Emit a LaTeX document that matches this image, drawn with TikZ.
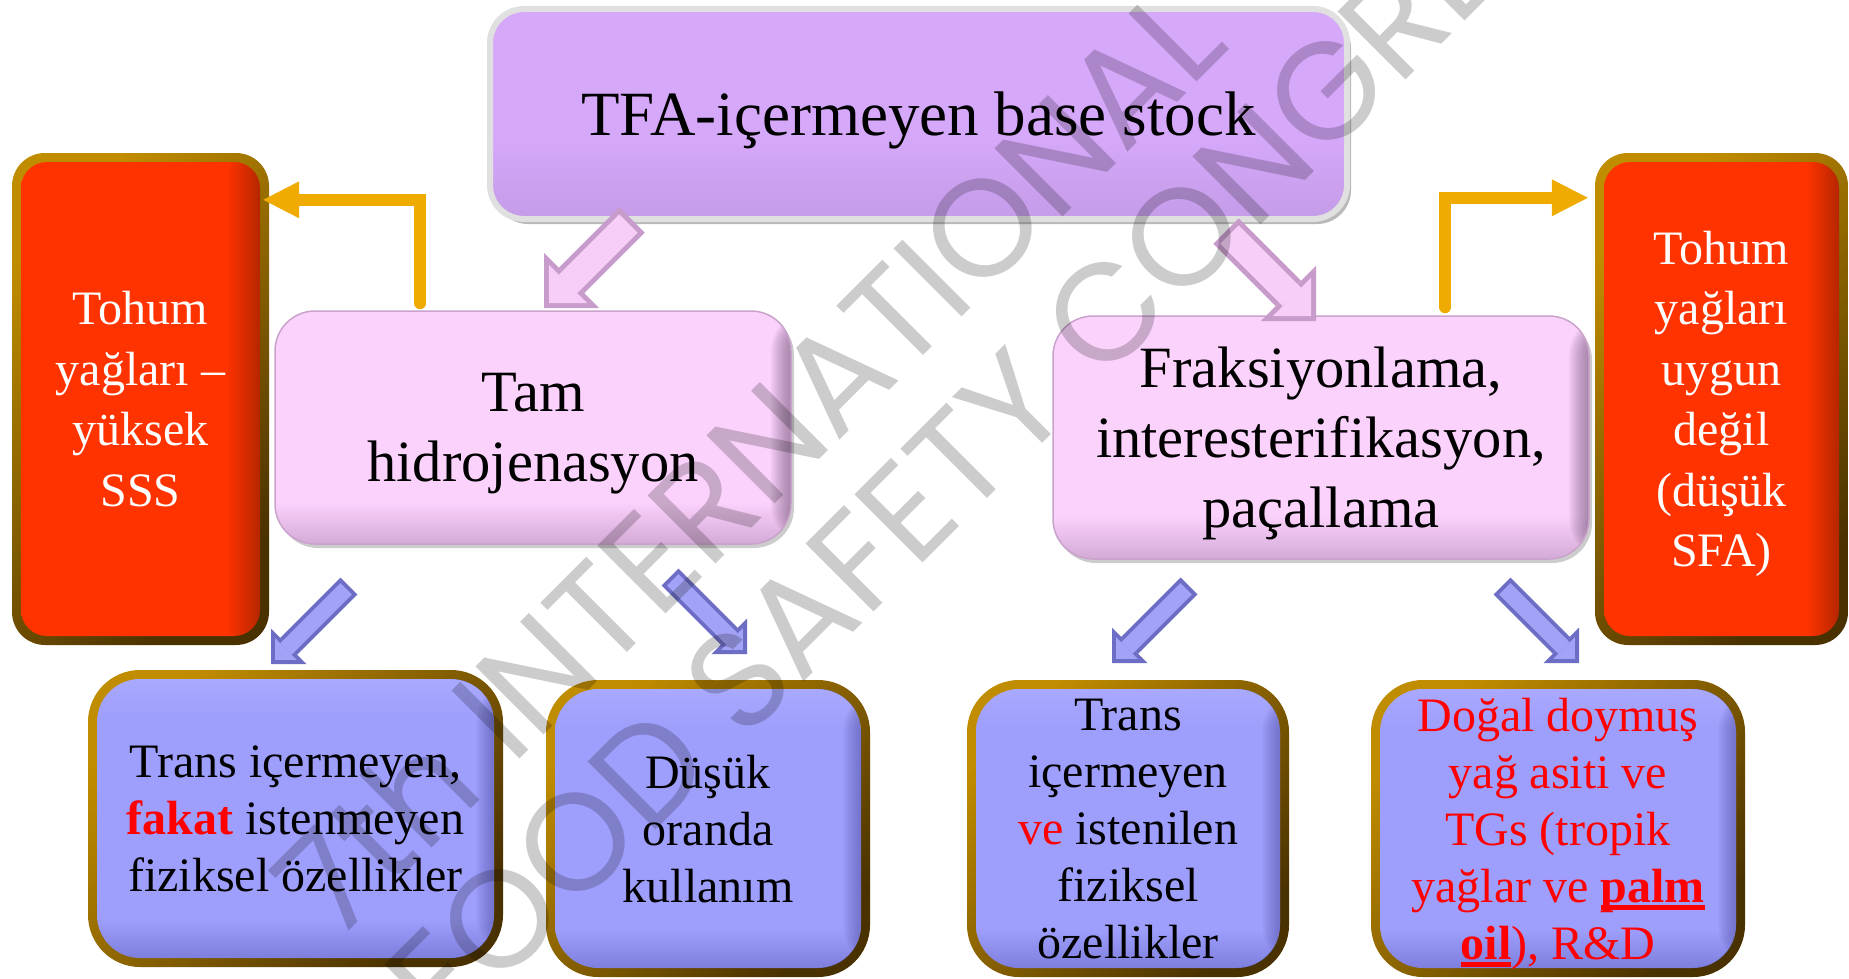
\documentclass[tikz,border=0pt]{standalone}
\usepackage{fontspec}
\setmainfont{Liberation Serif}
\newfontfamily\wmfont{Poppins}
\usetikzlibrary{positioning,shadows,arrows.meta}

\definecolor{topfill}{HTML}{D6A8FA}
\definecolor{topfillb}{HTML}{C49CE8}
\definecolor{pinkfill}{HTML}{FBD2FC}
\definecolor{pinkfillb}{HTML}{D3A9D6}
\definecolor{pinkdark}{HTML}{5E4262}
\definecolor{pinkedge}{HTML}{C9A3CC}
\definecolor{redfill}{HTML}{FF3300}
\definecolor{redfillb}{HTML}{B52600}
\definecolor{bluefill}{HTML}{9E9EFC}
\definecolor{bluefilltop}{HTML}{A9A9FF}
\definecolor{bluefillb}{HTML}{7E7EDC}
\definecolor{bluedark}{HTML}{3A3A8A}
\definecolor{goldA}{HTML}{C08C00}
\definecolor{goldB}{HTML}{4A3200}
\definecolor{elbow}{HTML}{F0AB00}
\definecolor{pinkarr}{HTML}{F6CEF7}
\definecolor{pinkarrb}{HTML}{C79BCA}
\definecolor{bluearr}{HTML}{A2A2F6}
\definecolor{bluearrb}{HTML}{6D6DC6}
\definecolor{txtred}{HTML}{FF0000}

\pgfdeclareverticalshading{topshade}{100bp}{color(0bp)=(topfillb); color(25bp)=(topfillb); color(45bp)=(topfill); color(100bp)=(topfill)}
\pgfdeclareverticalshading{pinkshade}{100bp}{color(0bp)=(pinkfillb); color(25bp)=(pinkfillb); color(34bp)=(pinkfill); color(100bp)=(pinkfill)}
\pgfdeclarehorizontalshading{redshade}{100bp}{color(0bp)=(redfill); color(68bp)=(redfill); color(75bp)=(redfillb); color(100bp)=(redfillb)}
\pgfdeclareverticalshading{blueshade}{100bp}{color(0bp)=(bluefillb); color(25bp)=(bluefillb); color(32bp)=(bluefill); color(68bp)=(bluefill); color(75bp)=(bluefilltop); color(100bp)=(bluefilltop)}

\newcommand\thickul[1]{\setbox0=\hbox{\textbf{#1}}\rlap{\rule[-8pt]{\wd0}{5pt}}\box0}

\begin{document}
\begin{tikzpicture}[x=1pt,y=-1pt,
  topbox/.style={rounded corners=34pt, shade, shading=topshade, draw=black!12, line width=6pt,
    drop shadow={shadow xshift=4pt, shadow yshift=-5pt, opacity=.55},
    inner sep=0pt, text depth=0pt, align=center, font=\fontsize{63}{76}\selectfont},
  midbox/.style={rounded corners=40pt, shade, shading=pinkshade, draw=pinkedge, line width=1.5pt,
    drop shadow={shadow xshift=3pt, shadow yshift=-4pt, opacity=.4},
    path picture={
      \foreach \i in {1,...,9}
        \fill[pinkdark, opacity=.07] ([xshift=-2.2*\i pt]path picture bounding box.north east) rectangle (path picture bounding box.south east);},
    inner sep=0pt, text depth=0pt, align=center, font=\fontsize{58.5}{70}\selectfont},
  goldframe/.style={rounded corners=#1, top color=goldA, bottom color=goldB, shading angle=45, inner sep=0pt},
  redbox/.style={rounded corners=26pt, shade, shading=redshade, text=white, inner sep=0pt,
    text depth=0pt, align=center, font=\fontsize{48}{60.5}\selectfont},
  bluebox/.style={rounded corners=43pt, shade, shading=blueshade,
    path picture={
      \foreach \i in {1,...,8}
        \fill[bluedark, opacity=.06] ([xshift=-2.2*\i pt]path picture bounding box.north east) rectangle (path picture bounding box.south east);},
    inner sep=0pt, text depth=0pt, align=center, font=\fontsize{48}{57}\selectfont},
  elbowarrow/.style={draw=elbow, line width=12pt, line cap=round,
    -{Triangle[length=36pt,width=37pt,line width=0pt]}},
  pinkarrow/.style={draw=pinkarrb, line width=36pt, -{Triangle[length=39pt,width=78pt,line width=0pt]},
    postaction={draw=pinkarr, line width=26pt, shorten <=5pt, shorten >=7pt,
      -{Triangle[length=27pt,width=54pt,line width=0pt]}}},
  bluearrow/.style={draw=bluearrb, line width=24pt, -{Triangle[length=25pt,width=50pt,line width=0pt]},
    postaction={draw=bluearr, line width=16pt, shorten <=4pt, shorten >=5.7pt,
      -{Triangle[length=15.5pt,width=31pt,line width=0pt]}}},
  wmark/.style={font=\wmfont\fontsize{138}{138}\selectfont, text=black, text opacity=.2,
    inner sep=0pt, rotate=45}]

\path[use as bounding box, fill=white] (0,0) rectangle (1849,979);

% process boxes
\node[topbox, minimum width=857pt, minimum height=210pt] (tfa) at (918.5,114) {TFA-içermeyen base stock};
\node[midbox, minimum width=516pt, minimum height=233pt] (tam) at (533,427.5) {Tam\\hidrojenasyon};
\node[midbox, minimum width=536pt, minimum height=243pt] (frak) at (1321,437.5) {Fraksiyonlama,\\interesterifikasyon,\\paçallama};

% seed oil boxes
\node[goldframe=33pt, minimum width=257pt, minimum height=492pt] (sssframe) at (140.5,399) {};
\node[redbox, minimum width=239pt, minimum height=474pt] (sss) at (sssframe.center) {Tohum\\yağları –\\yüksek\\SSS};
\node[goldframe=33pt, minimum width=253pt, minimum height=492pt] (sfaframe) at (1721.5,399) {};
\node[redbox, minimum width=235pt, minimum height=474pt] (sfa) at (sfaframe.center) {Tohum\\yağları\\uygun\\değil\\(düşük\\SFA)};

% result boxes
\node[goldframe=52pt, minimum width=415pt, minimum height=297pt] (transframe) at (295.5,818.5) {};
\node[bluebox, minimum width=397pt, minimum height=279pt] (trans) at (transframe.center) {Trans içermeyen,\\{\color{txtred}\textbf{fakat}} istenmeyen\\fiziksel özellikler};
\node[goldframe=52pt, minimum width=324pt, minimum height=297pt] (lowframe) at (708,828.5) {};
\node[bluebox, minimum width=306pt, minimum height=279pt] (low) at (lowframe.center) {Düşük\\oranda\\kullanım};
\node[goldframe=52pt, minimum width=322pt, minimum height=297pt] (goodframe) at (1128,828.5) {};
\node[bluebox, minimum width=304pt, minimum height=279pt] (good) at (goodframe.center) {Trans\\içermeyen\\{\color{txtred}ve} istenilen\\fiziksel\\özellikler};
\node[goldframe=52pt, minimum width=374pt, minimum height=297pt] (palmframe) at (1558,828.5) {};
\node[bluebox, text=txtred, minimum width=356pt, minimum height=279pt] (palm) at (palmframe.center) {Doğal doymuş\\yağ asiti ve\\TGs (tropik\\yağlar ve \thickul{palm}\\\thickul{oil}), R\&D};

% elbow arrows to the seed oil boxes
\draw[elbowarrow] ([xshift=146pt,yshift=7pt]tam.north west) |- ([xshift=-6pt,yshift=-47pt]sssframe.north east);
\draw[elbowarrow] ([xshift=393pt,yshift=8pt]frak.north west) |- ([xshift=-7pt,yshift=-45pt]sfaframe.north west);

% block arrows
\coordinate (pl0) at (632,220);  \coordinate (pl1) at (544,308);
\coordinate (pr0) at (1226,231); \coordinate (pr1) at (1316,321);
\coordinate (bl0) at (349,586);  \coordinate (bl1) at (271,664);
\coordinate (bm0) at (670,577);  \coordinate (bm1) at (747,654);
\coordinate (bn0) at (1189,586); \coordinate (bn1) at (1112,663);
\coordinate (br0) at (1502,586); \coordinate (br1) at (1579,663);
\draw[pinkarrow] (pl0) -- (pl1);
\draw[pinkarrow] (pr0) -- (pr1);
\draw[bluearrow] (bl0) -- (bl1);
\draw[bluearrow] (bm0) -- (bm1);
\draw[bluearrow] (bn0) -- (bn1);
\draw[bluearrow] (br0) -- (br1);

% watermark
\node[wmark] (wm1) at (748,460) {7th INTERNATIONAL};
\node[wmark] (wm2) at (1000,418) {FOOD SAFETY CONGRESS};
\end{tikzpicture}
\end{document}
